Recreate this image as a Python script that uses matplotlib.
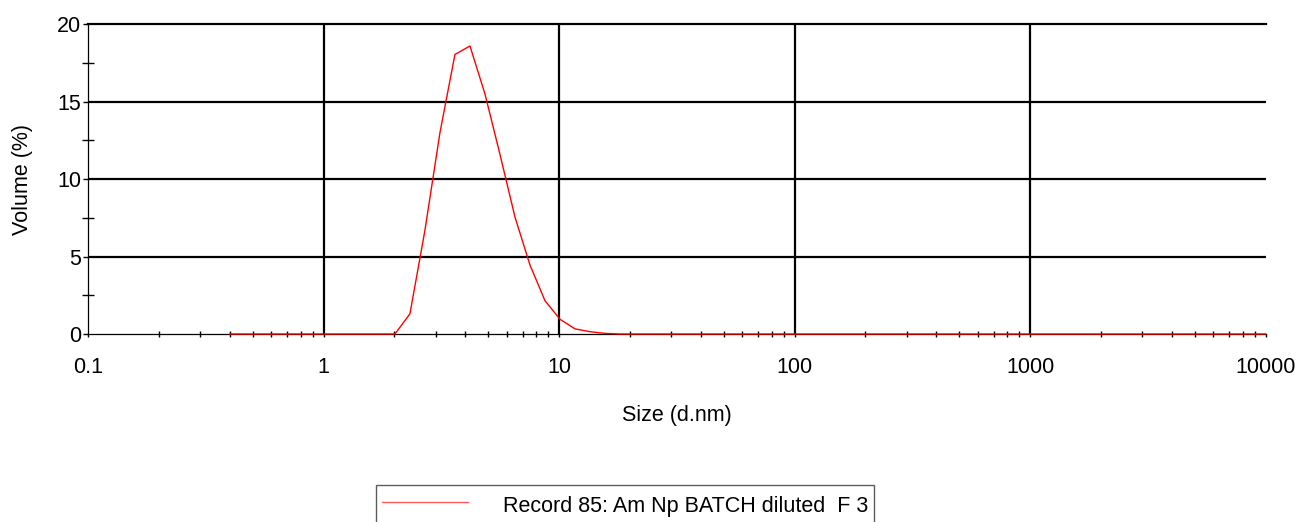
import numpy as np
import matplotlib
matplotlib.use("Agg")
import matplotlib.pyplot as plt
from matplotlib.ticker import LogLocator, FixedLocator, NullFormatter

plt.rcParams['font.family'] = ['Liberation Sans', 'DejaVu Sans']

# size classes (d.nm) of the instrument
sizes = [0.4, 0.4632, 0.5365, 0.6213, 0.7195, 0.8332, 0.9649, 1.117, 1.294, 1.499,
         1.736, 2.010, 2.328, 2.696, 3.122, 3.615, 4.187, 4.849, 5.615, 6.503,
         7.531, 8.721, 10.10, 11.70, 13.54, 15.69, 18.17, 21.04, 24.36, 28.21,
         32.67, 37.84, 43.82, 50.75, 58.77, 68.06, 78.82, 91.28, 105.7, 122.4,
         141.8, 164.2, 190.1, 220.2, 255.0, 295.3, 342.0, 396.1, 458.7, 531.2,
         615.1, 712.4, 825.0, 955.4, 1106, 1281, 1484, 1718, 1990, 2305,
         2669, 3091, 3580, 4145, 4801, 5560, 6439, 7456, 8635, 10000]

# volume (%)
volume = ([0.0] * 12 +
          [1.3, 6.7, 13.0, 18.05, 18.6, 15.5, 11.6, 7.55, 4.45, 2.15,
           0.95, 0.33, 0.15, 0.04] +
          [0.0] * 44)

record_name = "Record 85: Am Np BATCH diluted  F 3"
x_ticks = [0.1, 1, 10, 100, 1000, 10000]
x_labels = ["0.1", "1", "10", "100", "1000", "10000"]
y_ticks = [0, 5, 10, 15, 20]

fs = 15.5

fig = plt.figure(figsize=(13.02, 5.22), dpi=100)
ax = fig.add_axes([88 / 1302, 1 - 334 / 522, (1265.5 - 88) / 1302, (334 - 24.3) / 522])

# grid lines (major only, none at the right edge)
for gx in x_ticks[1:-1]:
    ax.axvline(gx, color="black", lw=1.6, zorder=1)
for gy in y_ticks[1:-1]:
    ax.axhline(gy, color="black", lw=1.6, zorder=1)

line, = ax.plot(sizes, volume, color="red", lw=1.0, label=record_name,
                clip_on=False, zorder=3)

ax.set_xscale("log")
ax.set_xlim(0.1, 10000)
ax.set_ylim(0, 20)

ax.xaxis.set_major_locator(FixedLocator(x_ticks))
ax.set_xticklabels(x_labels)
ax.xaxis.set_minor_locator(LogLocator(base=10, subs=np.arange(2, 10), numticks=50))
ax.xaxis.set_minor_formatter(NullFormatter())
ax.set_yticks(y_ticks)
ax.yaxis.set_minor_locator(FixedLocator([2.5, 7.5, 12.5, 17.5]))

ax.tick_params(axis="x", which="major", direction="out", length=2.2, width=1,
               pad=14.5, labelsize=fs, colors="black")
ax.tick_params(axis="x", which="minor", direction="inout", length=4.3, width=1)
ax.tick_params(axis="y", which="major", direction="out", length=3.6, width=1,
               pad=1.5, labelsize=fs, colors="black")
ax.tick_params(axis="y", which="minor", direction="inout", length=8.4, width=1)

for s in ["left", "bottom"]:
    ax.spines[s].set_linewidth(0.9)
    ax.spines[s].set_color("black")
ax.spines["right"].set_visible(False)
ax.spines["top"].set_linewidth(1.6)
ax.spines["top"].set_color("black")

ax.set_xlabel("Size (d.nm)", fontsize=fs, labelpad=19)
ax.set_ylabel("Volume (%)", fontsize=fs, labelpad=17)

leg = fig.legend(handles=[line], loc="upper left",
                 bbox_to_anchor=(375.5 / 1302, 1 - 485 / 522),
                 bbox_transform=fig.transFigure, fontsize=fs, frameon=True,
                 fancybox=False, edgecolor="#333333", borderpad=0.3,
                 borderaxespad=0, handlelength=4.0, handletextpad=1.6,
                 handleheight=1.5)
leg.get_frame().set_linewidth(1.0)
leg.get_lines()[0].set_color("#ff5a5a")

fig.savefig("out.png", dpi=100)
